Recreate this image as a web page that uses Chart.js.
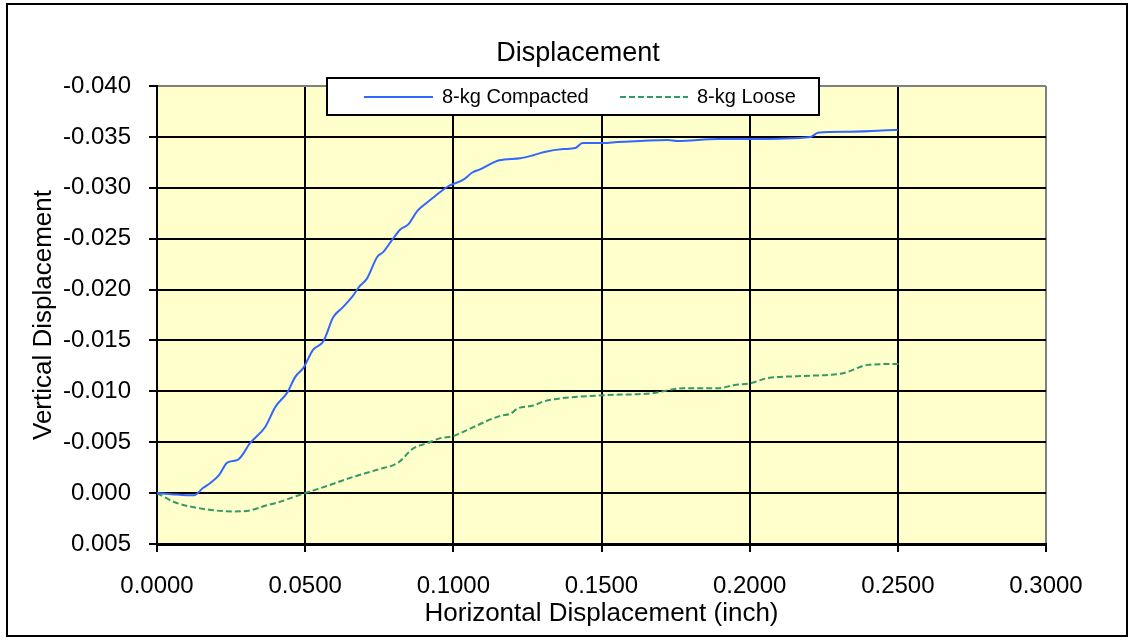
<!DOCTYPE html>
<html>
<head>
<meta charset="utf-8">
<script src="https://cdn.jsdelivr.net/npm/chart.js@4"></script>
<style>
  body { margin: 0; background: #fff; }
  canvas { display: block; }
</style>
</head>
<body>
<canvas id="chart" width="1134" height="642"></canvas>
<script>
// 読み取った値（インチ）
const compactX = [0.0000, 0.0050, 0.0100, 0.0125, 0.0155, 0.0180, 0.0210, 0.0237, 0.0274, 0.0314,
  0.0365, 0.0400, 0.0440, 0.0466, 0.0494, 0.0527, 0.0561, 0.0595, 0.0625, 0.0659,
  0.0680, 0.0709, 0.0743, 0.0764, 0.0794, 0.0821, 0.0848, 0.0878, 0.0905, 0.0935,
  0.0980, 0.1034, 0.1064, 0.1090, 0.1155, 0.1226, 0.1270, 0.1304, 0.1372, 0.1412,
  0.1436, 0.1507, 0.1554, 0.1632, 0.1723, 0.1757, 0.1892, 0.2003, 0.2206, 0.2230,
  0.2341, 0.2500];
const compactY = [0.0000, 0.0001, 0.0002, 0.0002, -0.0005, -0.0010, -0.0018, -0.0030, -0.0033, -0.0049,
  -0.0065, -0.0085, -0.0099, -0.0114, -0.0123, -0.0141, -0.0149, -0.0173, -0.0182, -0.0193,
  -0.0202, -0.0211, -0.0232, -0.0237, -0.0249, -0.0259, -0.0264, -0.0277, -0.0284, -0.0291,
  -0.0301, -0.0308, -0.0315, -0.0318, -0.0327, -0.0329, -0.0332, -0.0335, -0.0338, -0.0339,
  -0.0344, -0.0344, -0.0345, -0.0346, -0.0347, -0.0346, -0.0348, -0.0348, -0.0350, -0.0354,
  -0.0355, -0.0357];

const looseX = [0.0000, 0.0060, 0.0145, 0.0257, 0.0314, 0.0370, 0.0410, 0.0460, 0.0500, 0.0584,
  0.0652, 0.0743, 0.0814, 0.0865, 0.0912, 0.0956, 0.1000, 0.1024, 0.1159, 0.1193,
  0.1216, 0.1270, 0.1304, 0.1497, 0.1666, 0.1777, 0.1892, 0.1946, 0.2003, 0.2060,
  0.2172, 0.2318, 0.2399, 0.2510];
const looseY = [0.0000, 0.0009, 0.0015, 0.0018, 0.0017, 0.0012, 0.0009, 0.0004, 0.0000, -0.0008,
  -0.0015, -0.0023, -0.0030, -0.0044, -0.0049, -0.0054, -0.0056, -0.0059, -0.0076, -0.0078,
  -0.0083, -0.0086, -0.0090, -0.0096, -0.0098, -0.0103, -0.0103, -0.0106, -0.0108, -0.0113,
  -0.0115, -0.0118, -0.0126, -0.0127];

const seriesNames = ['8-kg Compacted', '8-kg Loose'];
const xTickStep = 0.05;
const yTickStep = 0.005;

const FONT = "'Liberation Sans', Arial, sans-serif";
Chart.defaults.font.family = FONT;
Chart.defaults.color = '#000';

function toPoints(xs, ys) {
  return xs.map((x, i) => ({ x: x, y: ys[i] }));
}

// 背景・外枠・凡例
const framePlugin = {
  id: 'frame',
  beforeDraw(chart) {
    const { ctx, chartArea: a } = chart;
    ctx.save();
    ctx.fillStyle = '#fff';
    ctx.fillRect(0, 0, chart.width, chart.height);
    ctx.strokeStyle = '#000';
    ctx.lineWidth = 2;
    ctx.strokeRect(7, 4, 1120, 632);
    ctx.fillStyle = '#ffffcc';
    ctx.fillRect(a.left, a.top, a.right - a.left, a.bottom - a.top);
    ctx.restore();
  },
  afterDraw(chart) {
    const ctx = chart.ctx;
    ctx.save();
    ctx.fillStyle = '#fff';
    ctx.fillRect(327, 78, 492, 37);
    ctx.strokeStyle = '#000';
    ctx.lineWidth = 2;
    ctx.strokeRect(327, 78, 492, 37);
    const items = [
      { x1: 364, x2: 433, tx: 442 },
      { x1: 620, x2: 688, tx: 697 }
    ];
    ctx.font = '20px ' + FONT;
    ctx.textBaseline = 'middle';
    chart.data.datasets.forEach((ds, i) => {
      const it = items[i];
      ctx.beginPath();
      ctx.setLineDash(ds.borderDash || []);
      ctx.strokeStyle = ds.borderColor;
      ctx.lineWidth = ds.borderWidth;
      ctx.moveTo(it.x1, 97);
      ctx.lineTo(it.x2, 97);
      ctx.stroke();
      ctx.setLineDash([]);
      ctx.fillStyle = '#000';
      ctx.fillText(ds.label, it.tx, 97);
    });
    ctx.restore();
  }
};

new Chart(document.getElementById('chart'), {
  type: 'line',
  data: {
    datasets: [{
      label: seriesNames[0],
      data: toPoints(compactX, compactY),
      borderColor: '#3366ff',
      borderWidth: 2,
      pointRadius: 0,
      cubicInterpolationMode: 'monotone',
      fill: false
    }, {
      label: seriesNames[1],
      data: toPoints(looseX, looseY),
      borderColor: '#339966',
      borderWidth: 2,
      borderDash: [6, 3],
      pointRadius: 0,
      cubicInterpolationMode: 'monotone',
      fill: false
    }]
  },
  options: {
    responsive: false,
    animation: false,
    layout: { padding: { left: 22, top: 0, right: 0, bottom: 0 } },
    scales: {
      x: {
        type: 'linear',
        min: 0,
        max: 0.3,
        ticks: {
          stepSize: xTickStep,
          padding: 20,
          font: { size: 24 },
          color: '#000',
          callback: v => (Math.abs(v) < 1e-9 ? 0 : v).toFixed(4)
        },
        grid: {
          color: ctx => (ctx.tick && Math.abs(ctx.tick.value - 0.3) < 1e-9) ? '#808080' : '#000',
          lineWidth: 2,
          tickLength: 8,
          tickColor: '#000'
        },
        border: { color: '#000', width: 3 },
        title: {
          display: true,
          text: 'Horizontal Displacement (inch)',
          font: { size: 26 },
          color: '#000',
          padding: { top: 0, bottom: 13 }
        },
        afterFit(scale) {
          scale.height = 98;
          scale.paddingRight = 88;
        }
      },
      y: {
        type: 'linear',
        min: -0.04,
        max: 0.005,
        reverse: true,
        ticks: {
          stepSize: yTickStep,
          padding: 18,
          font: { size: 24 },
          color: '#000',
          callback: v => (Math.abs(v) < 1e-9 ? 0 : v).toFixed(3)
        },
        grid: {
          color: ctx => (ctx.tick && Math.abs(ctx.tick.value + 0.04) < 1e-9) ? '#808080' : '#000',
          lineWidth: 2,
          tickLength: 8,
          tickColor: '#000'
        },
        border: { color: '#000', width: 2 },
        title: {
          display: true,
          text: 'Vertical Displacement',
          font: { size: 26 },
          color: '#000',
          padding: { top: 6, bottom: 0 }
        },
        afterFit(scale) {
          scale.width = 135;
        }
      }
    },
    plugins: {
      title: {
        display: true,
        text: 'Displacement',
        font: { size: 27, weight: 'normal' },
        color: '#000',
        padding: { top: 37.4, bottom: 16.2 }
      },
      legend: { display: false },
      tooltip: { enabled: false }
    }
  },
  plugins: [framePlugin]
});
</script>
</body>
</html>
